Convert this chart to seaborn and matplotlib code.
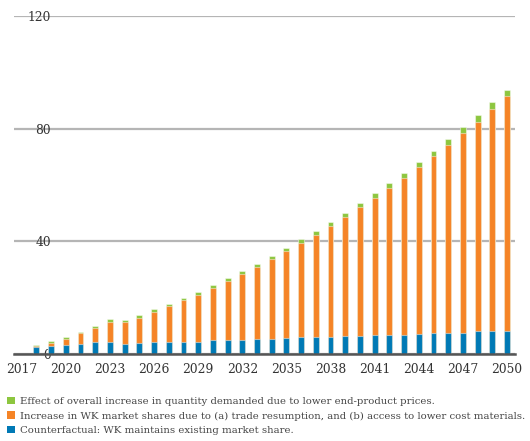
import numpy as np
import pandas as pd
import matplotlib
matplotlib.use("Agg")
import matplotlib.pyplot as plt
from matplotlib.patches import Patch
import seaborn as sns

# ── Data ──
years = list(range(2017, 2051))
counterfactual = [0.0, 2.7, 3.1, 3.3, 3.7, 4.2, 4.5, 3.8, 3.9, 4.2, 4.3, 4.5, 4.5, 4.9, 4.9, 5.1, 5.3,
                  5.5, 5.7, 6.0, 6.0, 6.3, 6.4, 6.6, 6.8, 6.9, 7.0, 7.2, 7.4, 7.5, 7.7, 8.1, 8.1, 8.3]
market_share = [0.0, 0.1, 0.8, 2.2, 3.7, 5.1, 7.1, 7.5, 9.1, 10.9, 12.7, 14.6, 16.6, 18.5, 21.0, 23.3, 25.7,
                28.3, 30.8, 33.4, 36.3, 39.3, 42.4, 45.5, 48.5, 51.9, 55.6, 59.2, 62.9, 66.8, 70.6, 74.4, 78.8, 83.1]
demand_effect = [0.0, 0.5, 0.7, 0.8, 0.5, 0.8, 1.0, 0.9, 1.0, 0.8, 0.9, 0.9, 1.1, 1.2, 1.1, 1.1, 1.1,
                 1.0, 1.2, 1.3, 1.5, 1.4, 1.4, 1.4, 1.7, 1.9, 1.7, 1.7, 1.9, 2.0, 2.3, 2.4, 2.4, 2.4]

series_labels = [
    "Effect of overall increase in quantity demanded due to lower end-product prices.",
    "Increase in WK market shares due to (a) trade resumption, and (b) access to lower cost materials.",
    "Counterfactual: WK maintains existing market share.",
]
COLORS = ["#8DC63F", "#F58426", "#0079B5"]

df = pd.DataFrame({
    "year": [str(y) for y in years],
    "blue": counterfactual,
    "orange": market_share,
    "green": demand_effect,
})
# overlay cumulative totals to get stacked bars
df["orange_top"] = df["blue"] + df["orange"]
df["green_top"] = df["orange_top"] + df["green"]

plt.rcParams["font.family"] = ["DejaVu Serif"]

fig = plt.figure(figsize=(5.3, 4.41), dpi=100)
ax = fig.add_axes([14 / 530, 1 - 354.3 / 441, (515 - 14) / 530, (354.3 - 15.7) / 441])

order = df["year"].tolist()
edge = (1, 1, 1, 0.45)
for col, color in zip(["green_top", "orange_top", "blue"], COLORS):
    sns.barplot(data=df, x="year", y=col, order=order, color=color, width=0.4,
                edgecolor=edge, linewidth=0.8, saturation=1, ax=ax, zorder=3)

ax.set_xlim(-0.52, len(years) - 1 + 0.54)
ax.set_ylim(0, 120)
ax.set_yticks([0, 40, 80, 120])
ax.set_yticklabels(["0", "40", "80", "120"])
ax.set_xticks(range(0, len(years), 3))
ax.set_xticklabels([str(y) for y in years[::3]])
ax.set_xlabel("")
ax.set_ylabel("")

ax.grid(axis="y", color="#b5b5b5", linewidth=1.6, zorder=0)
ax.set_axisbelow(True)
for s in ["top", "right", "left"]:
    ax.spines[s].set_visible(False)
ax.spines["bottom"].set_color("#555555")
ax.spines["bottom"].set_linewidth(1.8)
ax.spines["bottom"].set_zorder(4)

ax.tick_params(axis="y", length=0, pad=-37 * 0.72, labelsize=8.8, labelcolor="#333333")
for lbl in ax.get_yticklabels():
    lbl.set_horizontalalignment("right")
    lbl.set_zorder(5)
ax.tick_params(axis="x", length=0, pad=6.0, labelsize=8.8, labelcolor="#333333")

handles = [Patch(facecolor=c, edgecolor="none") for c in COLORS]
fig.legend(handles, series_labels, loc="upper left", bbox_to_anchor=(5 / 530, 1 - 395 / 441),
           frameon=False, fontsize=7.3, handlelength=0.75, handleheight=0.75,
           handletextpad=0.5, labelspacing=0.5, borderaxespad=0, borderpad=0.2,
           labelcolor="#444444")

fig.savefig("out.png", dpi=100)
plt.close(fig)
